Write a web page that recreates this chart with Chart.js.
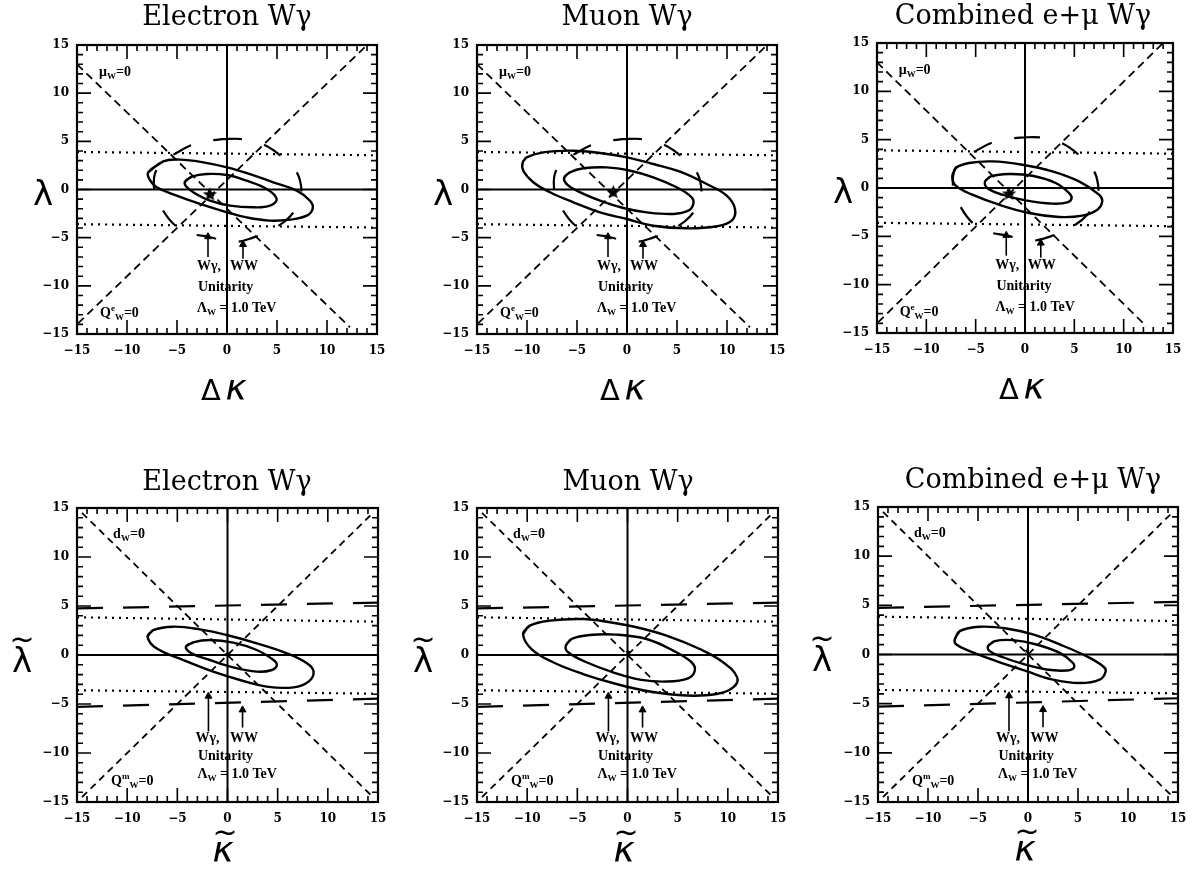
<!DOCTYPE html>
<html>
<head>
<meta charset="utf-8">
<script src="https://cdn.jsdelivr.net/npm/chart.js@4.4.1/dist/chart.umd.min.js"></script>
<style>
    html, body { margin: 0; padding: 0; background: #fff; }
    #hoja { position: relative; width: 1200px; height: 877px; overflow: hidden; }
    .panel { position: absolute; width: 400px; }
    canvas { display: block; }
</style>
</head>
<body>
<div id="hoja">
    <div class="panel" style="left:0;top:0"><canvas id="c1" width="400" height="438"></canvas></div>
    <div class="panel" style="left:400px;top:0"><canvas id="c2" width="400" height="438"></canvas></div>
    <div class="panel" style="left:800px;top:0"><canvas id="c3" width="400" height="438"></canvas></div>
    <div class="panel" style="left:0;top:438px"><canvas id="c4" width="400" height="439"></canvas></div>
    <div class="panel" style="left:400px;top:438px"><canvas id="c5" width="400" height="439"></canvas></div>
    <div class="panel" style="left:800px;top:438px"><canvas id="c6" width="400" height="439"></canvas></div>
</div>
<script>
// ==========================================
// DATOS
// ==========================================
const ticksEje = [-15, -10, -5, 0, 5, 10, 15];

// Contornos en el plano Δκ–λ (exterior 95%, interior 68%)
const elecDK95 = [[-7.87, 1.79], [-6.37, 2.93], [-4.7, 3.1], [-2.37, 2.82], [0, 2.3], [2.3, 1.6], [4.63, 0.74], [6.97, -0.12], [8.3, -1.16], [8.57, -2.0], [7.97, -2.72], [6.3, -3.13], [4.3, -3.23], [1.97, -2.9], [0, -2.37], [-2.7, -1.5], [-5.03, -0.64], [-7.03, 0.23], [-7.77, 1.09]];
const elecDK68 = [[-4.2, 0.81], [-3.53, 1.33], [-2.03, 1.61], [0, 1.5], [1.97, 0.91], [3.97, 0.05], [4.97, -0.99], [4.3, -1.68], [2.63, -1.85], [0.3, -1.68], [-1.7, -1.16], [-3.37, -0.29], [-4.1, 0.33]];
const elecDKStar = [-1.7, -0.54];

const muonDK95 = [[-10.43, 2.82], [-10.03, 3.34], [-8.37, 3.86], [-5.37, 4.03], [-2.7, 3.79], [0, 3.34], [2.63, 2.65], [5.3, 1.85], [7.97, 0.57], [9.97, -0.64], [10.8, -2.02], [10.47, -3.24], [8.97, -3.82], [5.97, -4.03], [2.63, -3.76], [0, -3.06], [-2.7, -2.37], [-5.37, -1.33], [-7.7, -0.29], [-9.37, 0.75], [-10.37, 1.95]];
const muonDK68 = [[-6.27, 1.27], [-5.7, 1.79], [-4.37, 2.2], [-2.03, 2.3], [0.33, 1.95], [2.63, 1.27], [4.97, 0.23], [6.47, -0.81], [6.63, -1.5], [6.13, -2.2], [4.63, -2.54], [1.97, -2.37], [-0.37, -1.92], [-2.7, -1.16], [-5.03, -0.12], [-6.1, 0.64]];
const muonDKStar = [-1.37, -0.29];

const combDK95 = [[-7.37, 1.2], [-7.02, 2.07], [-5.67, 2.59], [-3.31, 2.75], [-0.27, 2.41], [2.77, 1.72], [5.47, 0.68], [7.5, -0.69], [7.83, -1.39], [7.33, -2.24], [5.8, -2.86], [3.44, -3.0], [0.41, -2.59], [-2.63, -1.73], [-5.34, -0.69], [-7.02, 0.24]];
const combDK68 = [[-4.05, 0.68], [-3.48, 1.2], [-1.62, 1.45], [0.74, 1.27], [3.11, 0.52], [4.46, -0.52], [4.73, -1.03], [4.29, -1.49], [2.77, -1.62], [0.07, -1.28], [-2.3, -0.69], [-3.82, 0]];
const combDKStar = [-1.62, -0.62];

// Contornos en el plano κ̃–λ̃
const elecKT95 = [[-7.97, 1.87], [-7.4, 2.55], [-5.4, 2.89], [-2.75, 2.62], [-0.08, 2.04], [2.92, 1.19], [5.92, 0.17], [7.92, -0.85], [8.58, -1.7], [8.08, -2.72], [6.58, -3.3], [3.92, -3.23], [1.25, -2.55], [-1.42, -1.7], [-4.42, -0.51], [-7.08, 0.68]];
const elecKT68 = [[-4.15, 0.85], [-3.42, 1.29], [-1.75, 1.53], [0.58, 1.26], [2.92, 0.51], [4.58, -0.51], [4.92, -1.02], [4.42, -1.53], [2.92, -1.7], [0.58, -1.26], [-1.75, -0.51], [-3.58, 0.17]];
const elecKTStar = [0, 0.1];

const muonKT95 = [[-10.41, 2.14], [-9.74, 3.0], [-7.75, 3.51], [-4.43, 3.67], [-1.76, 3.34], [0.9, 2.83], [3.89, 1.98], [7.21, 0.61], [9.53, -0.74], [10.93, -2.28], [10.53, -3.3], [8.87, -3.98], [5.88, -4.14], [2.22, -3.73], [-1.1, -2.96], [-4.43, -1.94], [-7.42, -0.74], [-9.57, 0.61]];
const muonKT68 = [[-6.15, 0.96], [-5.58, 1.63], [-3.76, 2.04], [-1.1, 2.08], [1.89, 1.63], [4.55, 0.45], [6.38, -0.74], [6.71, -1.59], [6.04, -2.38], [3.89, -2.71], [1.23, -2.51], [-1.44, -1.77], [-4.09, -0.74], [-5.92, 0.28]];
const muonKTStar = [0.05, 0.3];

const combKT95 = [[-7.33, 1.53], [-6.83, 2.38], [-4.83, 2.82], [-2.16, 2.65], [0.5, 2.04], [3.17, 1.02], [5.84, -0.17], [7.5, -1.19], [7.77, -1.7], [7.17, -2.55], [5.17, -2.9], [2.5, -2.55], [-0.16, -1.7], [-3.16, -0.68], [-5.83, 0.34], [-7.16, 1.02]];
const combKT68 = [[-4.0, 0.85], [-3.33, 1.36], [-1.5, 1.46], [0.84, 1.02], [3.17, 0.16], [4.5, -0.86], [4.57, -1.37], [3.84, -1.63], [1.84, -1.53], [-0.5, -0.96], [-2.5, -0.28], [-3.83, 0.34]];
const combKTStar = [-0.1, 0.35];

// Ejes cero (comunes)
const ejeH = [[-15, 0], [15, 0]];
const ejeV = [[0, -15], [0, 15]];

// Líneas de referencia plano Δκ–λ
const muCero = [[-15, 13], [12.3, -14.3]];
const qeCero = [[-14.9, -13.9], [14, 15]];
const unitWgSup = [[-15, 3.9], [15, 3.55]];
const unitWgInf = [[-15, -3.6], [15, -3.95]];
const unitWW = [[-0.5, 5.22], [1.6, 5.22], [3.8, 4.6], [5.6, 3.3], [6.9, 1.9], [7.4, 0.4], [7.3, -1.0], [6.3, -2.8], [4.6, -4.1], [2.6, -5.0], [0.5, -5.45], [-1.9, -4.9], [-3.5, -4.6], [-5.0, -3.9], [-6.5, -2.0], [-7.3, 0.2], [-6.9, 2.3], [-4.7, 4.0], [-2.7, 4.9]];

// Líneas de referencia plano κ̃–λ̃
const dCero = [[-14.5, 14.5], [14.5, -14.5]];
const qmCero = [[-14.5, -14.5], [14.5, 14.5]];
const unitWgSupT = [[-15, 3.85], [15, 3.4]];
const unitWgInfT = [[-15, -3.6], [15, -3.95]];
const unitWWSupT = [[-15, 4.75], [15, 5.35]];
const unitWWInfT = [[-15, -5.3], [15, -4.45]];

// Flechas de unitariedad: [x, cola, punta]
const flechasDK = [[-1.9, -7.0, -4.9], [1.6, -7.2, -5.7]];
const flechasKT = [[-1.9, -7.8, -4.2], [1.5, -7.4, -5.6]];

// Textos dentro del gráfico
const notasDK = [
    { t: [['μ'], ['W', 'sub'], ['=0']], x: -12.8, y: 11.8 },
    { t: [['Q'], ['e', 'sup'], ['W', 'sub'], ['=0']], x: -12.7, y: -13.2 },
    { t: [['Wγ,']], x: -1.8, y: -8.4, c: true },
    { t: [['WW']], x: 1.7, y: -8.4, c: true },
    { t: [['Unitarity']], x: -2.9, y: -10.5 },
    { t: [['Λ'], ['W', 'sub'], [' = 1.0 TeV']], x: -3.0, y: -12.7 }
];
const notasKT = [
    { t: [['d'], ['W', 'sub'], ['=0']], x: -11.4, y: 11.9 },
    { t: [['Q'], ['m', 'sup'], ['W', 'sub'], ['=0']], x: -11.6, y: -13.3 },
    { t: [['Wγ,']], x: -2.0, y: -8.85, c: true },
    { t: [['WW']], x: 1.65, y: -8.85, c: true },
    { t: [['Unitarity']], x: -2.95, y: -10.7 },
    { t: [['Λ'], ['W', 'sub'], [' = 1.0 TeV']], x: -3.0, y: -12.55 }
];

// ==========================================
// CONFIGURACIÓN DE PANELES
// ==========================================
const paneles = [
    { id: 'c1', titulo: 'Electron Wγ', plano: 'dk', ext: elecDK95, int: elecDK68, estrella: elecDKStar,
      area: { l: 77, t: 45, r: 377, b: 334 }, tit: [227, 25], ylab: [43, 205], xlab: [224, 400] },
    { id: 'c2', titulo: 'Muon Wγ', plano: 'dk', ext: muonDK95, int: muonDK68, estrella: muonDKStar,
      area: { l: 77, t: 45, r: 377, b: 334 }, tit: [227, 25], ylab: [43, 205], xlab: [223, 400] },
    { id: 'c3', titulo: 'Combined e+μ Wγ', plano: 'dk', ext: combDK95, int: combDK68, estrella: combDKStar,
      area: { l: 77, t: 43, r: 373, b: 333 }, tit: [223, 24], ylab: [43, 203], xlab: [222, 399] },
    { id: 'c4', titulo: 'Electron Wγ', plano: 'kt', ext: elecKT95, int: elecKT68, estrella: elecKTStar,
      area: { l: 77, t: 70, r: 378, b: 364 }, tit: [227, 52], ylab: [22, 234], xlab: [223, 424] },
    { id: 'c5', titulo: 'Muon Wγ', plano: 'kt', ext: muonKT95, int: muonKT68, estrella: muonKTStar,
      area: { l: 77, t: 70, r: 378, b: 364 }, tit: [228, 52], ylab: [23, 234], xlab: [224, 424] },
    { id: 'c6', titulo: 'Combined e+μ Wγ', plano: 'kt', ext: combKT95, int: combKT68, estrella: combKTStar,
      area: { l: 78, t: 69, r: 378, b: 364 }, tit: [233, 50], ylab: [22, 233], xlab: [225, 423] }
];

const ANCHO_Y = 50;  // ancho fijo del eje y
const ALTO_X = 30;   // alto fijo del eje x

// ==========================================
// UTILIDADES
// ==========================================
const pts = arr => arr.map(([x, y]) => ({ x, y }));

function linea(arr, extra) {
    return Object.assign({
        data: pts(arr),
        showLine: true,
        borderColor: '#000',
        borderWidth: 1.8,
        pointRadius: 0,
        fill: false
    }, extra);
}

// Estrella rellena de 5 puntas para el punto central
function crearEstrella(r) {
    const c = document.createElement('canvas');
    c.width = c.height = Math.ceil(r * 2 + 2);
    const g = c.getContext('2d');
    g.translate(c.width / 2, c.height / 2);
    g.fillStyle = '#000';
    g.beginPath();
    for (let i = 0; i < 10; i++) {
        const rad = i % 2 ? r * 0.42 : r;
        const ang = -Math.PI / 2 + i * Math.PI / 5;
        g.lineTo(rad * Math.cos(ang), rad * Math.sin(ang));
    }
    g.closePath();
    g.fill();
    return c;
}
const estrellaGrande = crearEstrella(7.5);
const estrellaChica = crearEstrella(3);

function etiquetaTick(v) {
    return v < 0 ? '−' + Math.abs(v) : String(v);
}

function fuenteNota(tam) {
    return 'bold ' + tam + 'px "Liberation Serif"';
}

// Texto con subíndices / superíndices
function dibujarRico(ctx, partes, x, y, centrado) {
    const base = 14, chico = 9;
    let ancho = 0;
    partes.forEach(([t, m]) => {
        ctx.font = fuenteNota(m ? chico : base);
        ancho += ctx.measureText(t).width;
    });
    let cx = centrado ? x - ancho / 2 : x;
    ctx.textAlign = 'left';
    ctx.textBaseline = 'alphabetic';
    partes.forEach(([t, m]) => {
        ctx.font = fuenteNota(m ? chico : base);
        const dy = m === 'sub' ? 3 : (m === 'sup' ? -6 : 0);
        ctx.fillText(t, cx, y + dy);
        cx += ctx.measureText(t).width;
    });
}

// ==========================================
// PLUGINS
// ==========================================
// Marco con marcas hacia adentro en los cuatro lados
const marcoPlugin = {
    id: 'marco',
    afterDatasetsDraw(chart) {
        const { ctx, chartArea: a, scales } = chart;
        const sx = scales.x, sy = scales.y;
        ctx.save();
        ctx.strokeStyle = '#000';
        ctx.lineWidth = 1.6;
        ctx.beginPath();
        for (let v = -14; v <= 14; v++) {
            const largo = v % 5 === 0 ? 14 : 6;
            const px = sx.getPixelForValue(v);
            const py = sy.getPixelForValue(v);
            ctx.moveTo(px, a.bottom); ctx.lineTo(px, a.bottom - largo);
            ctx.moveTo(px, a.top); ctx.lineTo(px, a.top + largo);
            ctx.moveTo(a.left, py); ctx.lineTo(a.left + largo, py);
            ctx.moveTo(a.right, py); ctx.lineTo(a.right - largo, py);
        }
        ctx.stroke();
        ctx.lineWidth = 2.2;
        ctx.strokeRect(a.left, a.top, a.right - a.left, a.bottom - a.top);

        // notas en coordenadas de datos
        const p = paneles.find(q => q.id === chart.canvas.id);
        const notas = p.plano === 'dk' ? notasDK : notasKT;
        ctx.fillStyle = '#000';
        notas.forEach(n => {
            dibujarRico(ctx, n.t, sx.getPixelForValue(n.x), sy.getPixelForValue(n.y), n.c);
        });
        ctx.restore();
    }
};

// Título y rótulos de ejes
const rotulosPlugin = {
    id: 'rotulos',
    afterDraw(chart) {
        const p = paneles.find(q => q.id === chart.canvas.id);
        const ctx = chart.ctx;
        ctx.save();
        ctx.fillStyle = '#000';
        ctx.textBaseline = 'alphabetic';
        ctx.textAlign = 'center';
        ctx.font = '27px "DejaVu Serif"';
        ctx.fillText(p.titulo, p.tit[0], p.tit[1]);

        // eje y
        ctx.font = '34px "DejaVu Sans"';
        ctx.fillText('λ', p.ylab[0], p.ylab[1]);
        if (p.plano === 'kt') {
            ctx.font = '30px "DejaVu Sans"';
            ctx.textBaseline = 'middle';
            ctx.fillText('~', p.ylab[0], p.ylab[1] - 31);
            ctx.textBaseline = 'alphabetic';
        }

        // eje x
        if (p.plano === 'dk') {
            ctx.font = '29px "DejaVu Sans"';
            ctx.fillText('Δ', p.xlab[0] - 13, p.xlab[1]);
            ctx.font = 'italic 36px "DejaVu Sans"';
            ctx.fillText('κ', p.xlab[0] + 12, p.xlab[1]);
        } else {
            ctx.font = 'italic 36px "DejaVu Sans"';
            ctx.fillText('κ', p.xlab[0], p.xlab[1]);
            ctx.font = '30px "DejaVu Sans"';
            ctx.textBaseline = 'middle';
            ctx.fillText('~', p.xlab[0] + 2, p.xlab[1] - 28);
        }
        ctx.restore();
    }
};

// ==========================================
// CONSTRUCCIÓN DE DATASETS
// ==========================================
function datasetsPanel(p) {
    const ds = [];
    ds.push(linea(ejeH, { borderWidth: 2 }));
    ds.push(linea(ejeV, { borderWidth: 2 }));

    if (p.plano === 'dk') {
        ds.push(linea(muCero, { borderDash: [8, 5] }));
        ds.push(linea(qeCero, { borderDash: [8, 5] }));
        ds.push(linea(unitWgSup, { borderDash: [2, 5], borderWidth: 2.2 }));
        ds.push(linea(unitWgInf, { borderDash: [2, 5], borderWidth: 2.2 }));
        ds.push(linea([...unitWW, unitWW[0]], { borderDash: [20, 23], borderWidth: 2.2, tension: 0.4 }));
    } else {
        ds.push(linea(dCero, { borderDash: [7, 5] }));
        ds.push(linea(qmCero, { borderDash: [7, 5] }));
        ds.push(linea(unitWgSupT, { borderDash: [2, 5], borderWidth: 2.2 }));
        ds.push(linea(unitWgInfT, { borderDash: [2, 5], borderWidth: 2.2 }));
        ds.push(linea(unitWWSupT, { borderDash: [26, 20], borderWidth: 2.2 }));
        ds.push(linea(unitWWInfT, { borderDash: [26, 20], borderWidth: 2.2 }));
    }

    // contornos cerrados (se repiten los dos primeros puntos para cerrar suave)
    [p.ext, p.int].forEach(c => {
        ds.push(linea([...c, c[0], c[1]], { borderWidth: 2.4, tension: 0.4 }));
    });

    ds.push({
        data: pts([p.estrella]),
        pointStyle: p.plano === 'dk' ? estrellaGrande : estrellaChica,
        pointRadius: 5
    });

    const flechas = p.plano === 'dk' ? flechasDK : flechasKT;
    flechas.forEach(([x, cola, punta]) => {
        ds.push({
            data: [{ x, y: cola }, { x, y: punta }],
            showLine: true,
            borderColor: '#000',
            borderWidth: 1.6,
            pointRadius: [0, 4],
            pointStyle: 'triangle',
            pointBackgroundColor: '#000',
            pointBorderColor: '#000',
            pointBorderWidth: 1
        });
    });
    return ds;
}

function escala(pos, padding) {
    return {
        type: 'linear',
        position: pos,
        min: -15,
        max: 15,
        grid: { display: false, drawTicks: false },
        border: { display: false },
        afterBuildTicks: s => { s.ticks = ticksEje.map(v => ({ value: v })); },
        afterFit: s => {
            if (pos === 'left') s.width = ANCHO_Y;
            else s.height = ALTO_X;
        },
        ticks: {
            padding: padding,
            color: '#000',
            autoSkip: false,
            maxRotation: 0,
            font: { family: 'DejaVu Serif', size: 12, weight: 'bold' },
            callback: etiquetaTick
        }
    };
}

// ==========================================
// CREAR GRÁFICAS
// ==========================================
paneles.forEach(p => {
    const canvas = document.getElementById(p.id);
    const H = canvas.height;
    new Chart(canvas, {
        type: 'scatter',
        data: { datasets: datasetsPanel(p) },
        plugins: [marcoPlugin, rotulosPlugin],
        options: {
            responsive: false,
            animation: false,
            devicePixelRatio: 1,
            events: [],
            layout: {
                padding: {
                    left: p.area.l - ANCHO_Y,
                    top: p.area.t,
                    right: canvas.width - p.area.r,
                    bottom: H - p.area.b - ALTO_X
                }
            },
            plugins: {
                legend: { display: false },
                tooltip: { enabled: false }
            },
            scales: {
                x: escala('bottom', 10),
                y: escala('left', 8)
            }
        }
    });
});
</script>
</body>
</html>
